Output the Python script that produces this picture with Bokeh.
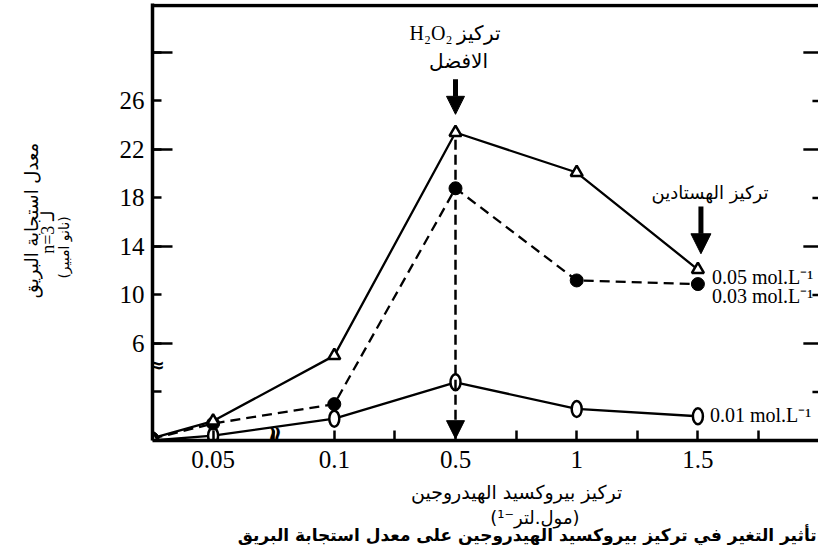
import math
from bokeh.plotting import figure
from bokeh.layouts import row, column
from bokeh.models import Range1d, FixedTicker, Label, Arrow, NormalHead, Span
from bokeh.embed import file_html
from bokeh.resources import INLINE

# ---- data (y in axis units, axis broken at "6") ----
conc_labels = ["0", "0.05", "0.1", "0.5", "1", "1.5"]
x_pos = [0, 1, 3, 5, 7, 9]
tri_005 = [0.2, 1.6, 7.0, 25.4, 22.1, 14.1]     # 0.05 mol.L-1
dot_003 = [0.15, 1.4, 3.0, 20.8, 13.2, 12.9]    # 0.03 mol.L-1
ring_001 = [0.0, 0.4, 1.8, 4.8, 2.6, 2.0]       # 0.01 mol.L-1

y_ticks = [4, 8, 12, 16, 20, 24, 28, 32]
y_long_ticks = [8, 16, 24, 32]
y_tick_labels = {4: "", 8: "6", 12: "10", 16: "14", 20: "18", 24: "22", 28: "26", 32: ""}
x_ticks = [1, 2, 3, 4, 5, 6, 7, 8, 9, 10]
x_tick_labels = {1: "0.05", 2: "", 3: "0.1", 4: "", 5: "0.5", 6: "", 7: "1", 8: "", 9: "1.5", 10: ""}

X_END = 10.99
Y_END = 36.04
LEFT_W = 90
MAIN_W = 818 - LEFT_W
MAIN_H = 480
BOT_H = 545 - MAIN_H

# ---------------- main chart ----------------
p = figure(width=MAIN_W, height=MAIN_H, output_backend="svg", toolbar_location=None,
           x_range=Range1d(0, X_END), y_range=Range1d(0, Y_END),
           min_border_left=152 - LEFT_W, min_border_right=0, min_border_top=3,
           min_border_bottom=MAIN_H - 440)
p.outline_line_color = None
p.grid.visible = False
p.background_fill_color = "white"
p.border_fill_color = "white"

p.yaxis.ticker = FixedTicker(ticks=y_ticks)
p.yaxis.major_label_overrides = y_tick_labels
p.yaxis.major_tick_in = 9
p.yaxis.major_tick_out = 0
p.yaxis.minor_tick_line_color = None
p.yaxis.axis_line_width = 3.5
p.yaxis.major_tick_line_width = 2.5
p.yaxis.major_label_text_font = "Liberation Serif"
p.yaxis.major_label_text_font_size = "25px"
p.yaxis.major_label_text_color = "black"
p.yaxis.major_label_standoff = 8

p.xaxis.ticker = FixedTicker(ticks=x_ticks)
p.xaxis.major_label_overrides = x_tick_labels
p.xaxis.major_tick_in = 10
p.xaxis.major_tick_out = 0
p.xaxis.minor_tick_line_color = None
p.xaxis.axis_line_width = 3.5
p.xaxis.major_tick_line_width = 2.5
p.xaxis.major_label_text_font = "Liberation Serif"
p.xaxis.major_label_text_font_size = "25px"
p.xaxis.major_label_text_color = "black"
p.xaxis.major_label_standoff = 10

# top border
p.add_layout(Span(location=Y_END - 0.16, dimension="width", line_color="black", line_width=3.5))

# long ticks on left, ticks on right border
p.segment(x0=[0] * len(y_long_ticks), y0=y_long_ticks, x1=[0.33] * len(y_long_ticks), y1=y_long_ticks,
          line_color="black", line_width=2.5)
p.segment(x0=[X_END - (0.25 if t in y_long_ticks else 0.1) for t in y_ticks], y0=y_ticks,
          x1=[X_END] * len(y_ticks), y1=y_ticks, line_color="black", line_width=2.5)

# series lines
p.line(x_pos, ring_001, line_color="black", line_width=2.3)
p.line(x_pos, dot_003, line_color="black", line_width=2.3, line_dash="10 6")
p.line(x_pos, tri_005, line_color="black", line_width=2.3)

# dashed arrow from optimum down to the axis
p.add_layout(Arrow(end=NormalHead(size=18, fill_color="black", line_color="black"),
                   x_start=x_pos[3], y_start=tri_005[3] - 0.6, x_end=x_pos[3], y_end=0.15,
                   line_color="black", line_width=2.5, line_dash="10 5"))

# markers
p.ellipse(x_pos, ring_001, width=10, height=16, width_units="screen", height_units="screen",
          fill_color="white", line_color="black", line_width=2.5)
p.scatter(x_pos, dot_003, marker="circle", size=13, fill_color="black", line_color="black")
p.scatter(x_pos, tri_005, marker="triangle", size=12, fill_color="white", line_color="black", line_width=2.5)

# arrows above
p.add_layout(Arrow(end=NormalHead(size=18, fill_color="black", line_color="black"),
                   x_start=5, y_start=29.8, x_end=5, y_end=26.9, line_color="black", line_width=5))
p.add_layout(Arrow(end=NormalHead(size=20, fill_color="black", line_color="black"),
                   x_start=9.05, y_start=19.3, x_end=9.05, y_end=15.4, line_color="black", line_width=5))


def lab(fig, x, y, text, font="DejaVu Sans", size="17px", align="center", baseline="middle",
        angle=0.0, style="normal", xo=0, yo=0):
    fig.add_layout(Label(x=x, y=y, text=text, text_font=font, text_font_size=size,
                         text_align=align, text_baseline=baseline, angle=angle,
                         text_font_style=style, text_color="black", x_offset=xo, y_offset=yo))


lab(p, 5.0, 33.6, "H₂O₂ تركيز", font="Liberation Serif", size="20px")
lab(p, 5.05, 31.3, "الافضل", size="20px")
lab(p, 9.2, 20.45, "تركيز الهستادين", size="18px")

lab(p, x_pos[-1], tri_005[-1], "0.05 mol.L⁻¹", font="Liberation Serif", size="20px", align="left", xo=14, yo=-7)
lab(p, x_pos[-1], dot_003[-1], "0.03 mol.L⁻¹", font="Liberation Serif", size="20px", align="left", xo=14, yo=-12)
lab(p, x_pos[-1], ring_001[-1], "0.01 mol.L⁻¹", font="Liberation Serif", size="20px", align="left", xo=12, yo=1)

# axis breaks
lab(p, 2, 0.4, "≈", size="26px", angle=math.pi / 2, style="bold")
lab(p, 0.07, 6.2, "≈", size="20px", style="bold")


def strip(w, h):
    f = figure(width=w, height=h, output_backend="svg", toolbar_location=None,
               x_range=Range1d(0, w), y_range=Range1d(0, h),
               x_axis_type=None, y_axis_type=None, min_border=0)
    f.outline_line_color = None
    f.grid.visible = False
    f.background_fill_color = "white"
    f.border_fill_color = "white"
    return f


# ---------------- left strip: y-axis title ----------------
left = strip(LEFT_W, 545)
lab(left, 31, 545 - 220, "معدل استجابة البريق", size="18px", angle=math.pi / 2)
lab(left, 47, 545 - 232, "n=3 لـ", font="Liberation Serif", size="18px", angle=math.pi / 2)
lab(left, 63, 545 - 247, "(نانو امبير)", size="14px", angle=math.pi / 2)

# ---------------- bottom strip: x-axis title and caption ----------------
bottom = strip(MAIN_W, BOT_H)
lab(bottom, 488 - LEFT_W, 545 - 491, "تركيز بيروكسيد الهيدروجين", size="19px")
lab(bottom, 508 - LEFT_W, 545 - 517, "(مول.لتر⁻¹)", size="18px")
lab(bottom, MAIN_W - 2, 1, "تأثير التغير في تركيز بيروكسيد الهيدروجين على معدل استجابة البريق",
    size="17px", align="right", baseline="bottom", style="bold")

layout = row(left, column(p, bottom))
open("out.html", "w").write(file_html(layout, INLINE))
